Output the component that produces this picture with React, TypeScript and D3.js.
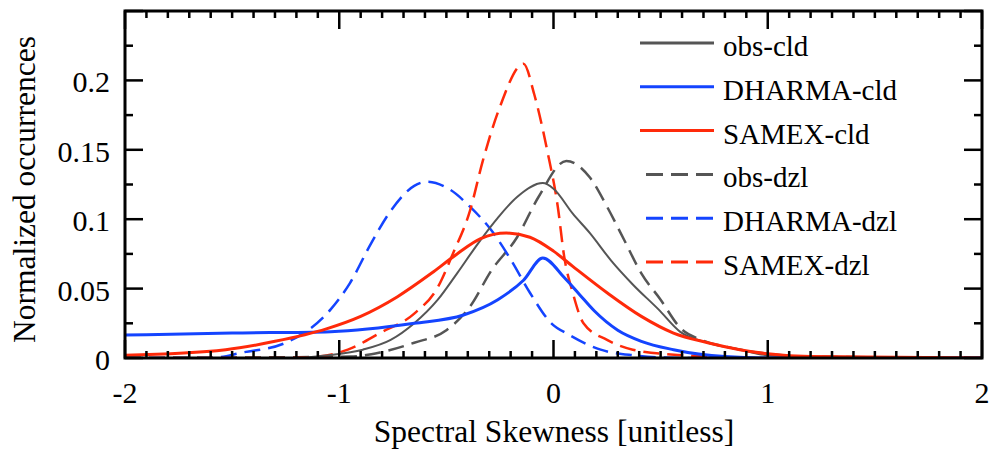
import React from 'react';
import * as d3 from 'd3';

const width = 990;
const height = 458;
const margin = { top: 11, right: 8, bottom: 100, left: 125 };

const xTicks = [-2, -1, 0, 1, 2];
const yTicks = [0, 0.05, 0.1, 0.15, 0.2];
const yTickLabels = ['0', '0.05', '0.1', '0.15', '0.2'];

const obsCldX = [-2, -1.2, -1.05, -0.89, -0.76, -0.65, -0.54, -0.45, -0.35, -0.26, -0.17, -0.05, 0.0, 0.09, 0.17, 0.27, 0.37, 0.49, 0.59, 0.72, 0.87, 1.0, 1.2, 2];
const obsCldY = [0, 0, 0.002, 0.006, 0.013, 0.025, 0.042, 0.061, 0.083, 0.101, 0.116, 0.126, 0.122, 0.104, 0.09, 0.07, 0.053, 0.035, 0.019, 0.011, 0.006, 0.002, 0.001, 0];

const dharmaCldX = [-2, -1.5, -1.04, -0.65, -0.42, -0.26, -0.14, -0.05, 0.05, 0.12, 0.19, 0.3, 0.41, 0.56, 0.8, 1.0, 2];
const dharmaCldY = [0.0165, 0.018, 0.019, 0.025, 0.031, 0.042, 0.056, 0.072, 0.058, 0.046, 0.034, 0.02, 0.012, 0.006, 0.001, 0, 0];

const samexCldX = [-2, -1.53, -1.3, -1.06, -0.9, -0.73, -0.57, -0.45, -0.34, -0.22, -0.11, 0.0, 0.09, 0.25, 0.41, 0.56, 0.72, 0.87, 1.0, 1.2, 2];
const samexCldY = [0.002, 0.006, 0.012, 0.021, 0.03, 0.044, 0.061, 0.075, 0.086, 0.09, 0.087, 0.077, 0.066, 0.047, 0.03, 0.018, 0.011, 0.006, 0.003, 0.001, 0];

const obsDzlX = [-2, -0.95, -0.81, -0.65, -0.5, -0.39, -0.29, -0.17, -0.07, 0.06, 0.17, 0.25, 0.33, 0.41, 0.5, 0.59, 0.69, 0.81, 1.0, 1.2, 2];
const obsDzlY = [0, 0.001, 0.004, 0.011, 0.02, 0.037, 0.063, 0.087, 0.116, 0.142, 0.13, 0.109, 0.085, 0.061, 0.042, 0.022, 0.013, 0.008, 0.003, 0.001, 0];

const dharmaDzlX = [-2, -1.6, -1.45, -1.25, -1.04, -0.95, -0.85, -0.76, -0.65, -0.59, -0.48, -0.39, -0.29, -0.2, -0.11, -0.01, 0.07, 0.22, 0.37, 0.6, 2];
const dharmaDzlY = [0, 0, 0.004, 0.011, 0.035, 0.054, 0.083, 0.106, 0.124, 0.127, 0.121, 0.109, 0.092, 0.071, 0.047, 0.025, 0.017, 0.006, 0.002, 0, 0];

const samexDzlX = [-2, -1.3, -1.1, -0.96, -0.81, -0.65, -0.54, -0.47, -0.39, -0.33, -0.25, -0.14, -0.09, -0.03, 0.02, 0.05, 0.09, 0.14, 0.25, 0.37, 0.6, 1.0, 2];
const samexDzlY = [0, 0, 0.001, 0.006, 0.018, 0.032, 0.051, 0.075, 0.106, 0.142, 0.181, 0.212, 0.19, 0.15, 0.109, 0.073, 0.047, 0.025, 0.013, 0.006, 0.002, 0, 0];

const series = [
  { name: 'obs-dzl', xs: obsDzlX, ys: obsDzlY, color: '#555555', dash: '16,8', w: 2.5 },
  { name: 'DHARMA-dzl', xs: dharmaDzlX, ys: dharmaDzlY, color: '#1444ff', dash: '16,8', w: 2.5 },
  { name: 'SAMEX-dzl', xs: samexDzlX, ys: samexDzlY, color: '#ff2a0a', dash: '16,8', w: 2.5 },
  { name: 'obs-cld', xs: obsCldX, ys: obsCldY, color: '#555555', dash: null, w: 2 },
  { name: 'DHARMA-cld', xs: dharmaCldX, ys: dharmaCldY, color: '#1444ff', dash: null, w: 3 },
  { name: 'SAMEX-cld', xs: samexCldX, ys: samexCldY, color: '#ff2a0a', dash: null, w: 3 },
];
const legendOrder = ['obs-cld', 'DHARMA-cld', 'SAMEX-cld', 'obs-dzl', 'DHARMA-dzl', 'SAMEX-dzl'];

const FONT = 'Liberation Serif';

const Label = (props: React.SVGProps<SVGTextElement>) => (
  <text fontFamily={FONT} style={{ fontFamily: `'${FONT}'` }} {...props} />
);

export default function App() {
  const x = d3.scaleLinear().domain([-2, 2]).range([margin.left, width - margin.right]);
  const y = d3.scaleLinear().domain([0, 0.25]).range([height - margin.bottom, margin.top]);
  const [x0, x1] = x.range();
  const [y0, y1] = y.range();

  const line = d3.line<[number, number]>()
    .x(d => x(d[0]))
    .y(d => y(d[1]))
    .curve(d3.curveMonotoneX);

  const xMinor = d3.range(-20, 21).map(i => i / 10);
  const yMinor = d3.range(0, 11).map(i => i * 0.025);

  return (
    <svg width={width} height={height} style={{ position: 'absolute', left: 0, top: 0, background: '#fff' }}>
      <defs>
        <clipPath id="clip"><rect x={x0} y={y1} width={x1 - x0} height={y0 - y1} /></clipPath>
      </defs>
      {/* curves */}
      <g clipPath="url(#clip)">
        {series.map(s => (
          <path key={s.name}
            d={line(s.xs.map((v, i) => [v, s.ys[i]] as [number, number])) || ''}
            fill="none" stroke={s.color} strokeWidth={s.w}
            strokeDasharray={s.dash || undefined} />
        ))}
      </g>

      {/* ticks, inward on every side */}
      <g stroke="#000" strokeWidth={2.5}>
        {xMinor.map(t => {
          const major = Math.abs(t - Math.round(t)) < 1e-9;
          const len = major ? 18 : 7;
          return (
            <g key={'x' + t}>
              <line x1={x(t)} x2={x(t)} y1={y0} y2={y0 - len} />
              <line x1={x(t)} x2={x(t)} y1={y1} y2={y1 + len} />
            </g>
          );
        })}
        {yMinor.map((t, i) => {
          const len = i % 2 === 0 ? 18 : 8;
          return (
            <g key={'y' + i}>
              <line x1={x0} x2={x0 + len} y1={y(t)} y2={y(t)} />
              <line x1={x1} x2={x1 - len} y1={y(t)} y2={y(t)} />
            </g>
          );
        })}
      </g>
      <rect x={x0} y={y1} width={x1 - x0} height={y0 - y1} fill="none" stroke="#000" strokeWidth={3} />

      {/* tick labels */}
      {xTicks.map(t => (
        <Label key={'xl' + t} x={x(t)} y={y0 + 45} textAnchor="middle" fontSize={30}>{t}</Label>
      ))}
      {yTicks.map((t, i) => (
        <Label key={'yl' + t} x={x0 - 15} y={y(t) + 12} textAnchor="end" fontSize={30}>{yTickLabels[i]}</Label>
      ))}

      <Label x={554} y={442} textAnchor="middle" fontSize={31.5}>Spectral Skewness [unitless]</Label>
      <Label transform={`translate(35,${(y0 + y1) / 2 + 5}) rotate(-90)`} textAnchor="middle" fontSize={31.5}>Normalized occurrences</Label>

      {/* legend */}
      {legendOrder.map((n, i) => {
        const s = series.find(d => d.name === n)!;
        const ly = 43 + i * 43.8;
        return (
          <g key={'lg' + n}>
            <line x1={s.dash ? 646 : 640} x2={714} y1={ly} y2={ly} stroke={s.color} strokeWidth={3}
              strokeDasharray={s.dash ? '17,8' : undefined} />
            <Label x={723} y={ly + 13} fontSize={29}>{n}</Label>
          </g>
        );
      })}
    </svg>
  );
}
